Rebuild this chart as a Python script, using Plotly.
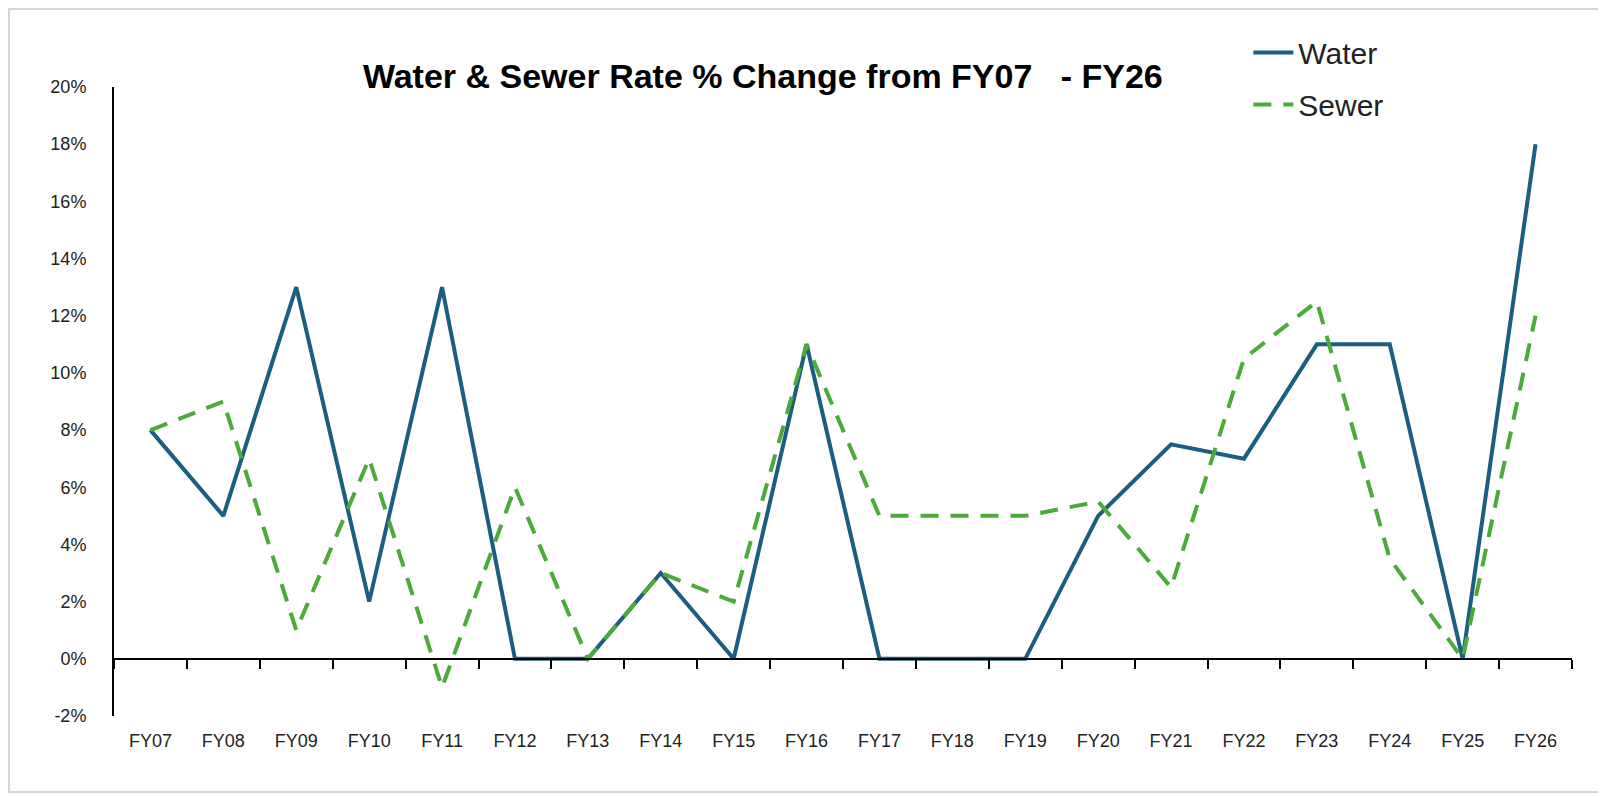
import plotly.graph_objects as go

years = ["FY07", "FY08", "FY09", "FY10", "FY11", "FY12", "FY13", "FY14", "FY15", "FY16",
         "FY17", "FY18", "FY19", "FY20", "FY21", "FY22", "FY23", "FY24", "FY25", "FY26"]
water = [8, 5, 13, 2, 13, 0, 0, 3, 0, 11, 0, 0, 0, 5, 7.5, 7, 11, 11, 0, 18]
sewer = [8, 9, 1, 7, -1, 6, 0, 3, 2, 11, 5, 5, 5, 5.5, 2.5, 10.5, 12.5, 3.5, 0, 12]

y_ticks = list(range(-2, 21, 2))

WATER_COLOR = "#1b5e80"
SEWER_COLOR = "#4caa3a"
FONT = "Arial, Liberation Sans, sans-serif"

fig = go.Figure()
fig.add_trace(go.Scatter(
    x=years, y=water, name="Water", mode="lines",
    line=dict(color=WATER_COLOR, width=4), legendgroup="w",
))
fig.add_trace(go.Scatter(
    x=years, y=sewer, name="Sewer", mode="lines",
    line=dict(color=SEWER_COLOR, width=4, dash="18px,12px"), legendgroup="s",
))
# invisible trace so the zero-line axis (ticks between categories) is drawn
fig.add_trace(go.Scatter(
    x=years, y=[0] * len(years), xaxis="x2", mode="lines",
    line=dict(color="rgba(0,0,0,0)"), showlegend=False, hoverinfo="skip",
))

fig.update_layout(
    width=1598,
    height=788,
    margin=dict(l=106, r=34, t=79, b=80),
    paper_bgcolor="white",
    plot_bgcolor="white",
    font=dict(family=FONT, color="#222222"),
    title=dict(
        text="Water & Sewer Rate % Change from FY07\u00a0\u00a0 - FY26",
        font=dict(size=34, color="black", family=FONT, weight="bold"),
        x=0.445, xanchor="center", y=0.913, yanchor="middle",
        xref="paper",
    ),
    legend=dict(
        x=0.778, y=1.096, xanchor="left", yanchor="top",
        font=dict(size=30, color="#222222"),
        bgcolor="rgba(0,0,0,0)",
        tracegroupgap=10,
        itemwidth=40,
    ),
    xaxis=dict(
        type="category", categoryorder="array", categoryarray=years,
        showline=False, ticks="", showgrid=False, zeroline=False,
        tickfont=dict(size=18, color="#222222"),
        ticklabelstandoff=12,
        range=[-0.5, len(years) - 0.5],
    ),
    xaxis2=dict(
        type="category", categoryorder="array", categoryarray=years,
        overlaying="x", anchor="free", position=2 / 22, side="bottom",
        showline=True, linecolor="black", linewidth=2,
        ticks="outside", tickson="boundaries", ticklen=9, tickwidth=2, tickcolor="black",
        showticklabels=False, showgrid=False, zeroline=False,
        range=[-0.5, len(years) - 0.5],
    ),
    yaxis=dict(
        range=[-2, 20], tickvals=y_ticks, ticktext=[f"{v}%" for v in y_ticks],
        showline=True, linecolor="black", linewidth=2,
        ticks="", showgrid=False, zeroline=False,
        tickfont=dict(size=18, color="#222222"),
        ticklabelstandoff=22,
    ),
    shapes=[dict(
        type="rect", xref="paper", yref="paper",
        x0=-0.072, x1=1.0192, y0=-0.1208, y1=1.124,
        line=dict(color="#d6d6d6", width=2), layer="below",
    )],
)

fig.write_html("out.html")
